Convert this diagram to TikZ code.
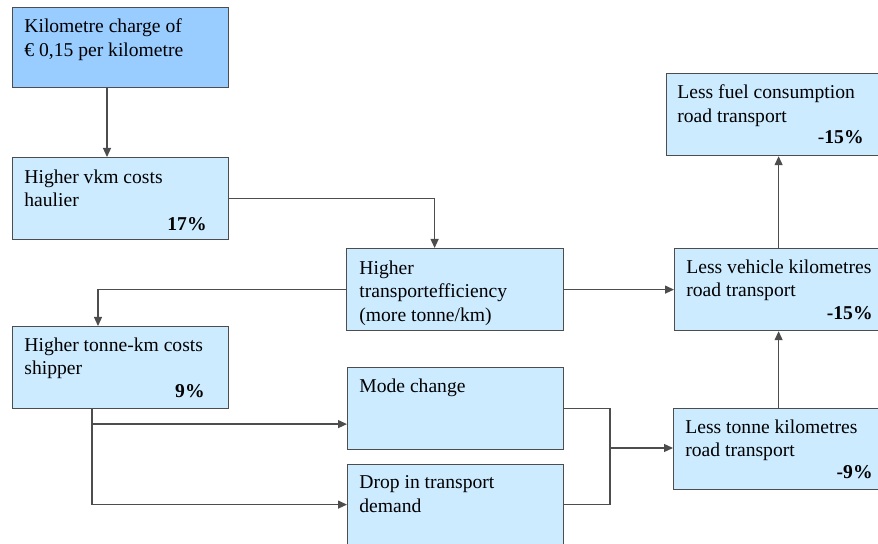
\documentclass[tikz,border=0pt]{standalone}
\usepackage{fontspec}
\setmainfont{Liberation Serif}
\usetikzlibrary{arrows.meta, calc}

\definecolor{chargeblue}{HTML}{99CCFF}
\definecolor{boxblue}{HTML}{CCEBFF}
\definecolor{linegray}{HTML}{4D4D4D}

\tikzset{
    box/.style={rectangle,draw=linegray,line width=0.6pt,fill=boxblue,anchor=north west,inner sep=0pt,minimum width=108pt,minimum height=41pt},
    txt/.style={anchor=north west,align=left,inner sep=0pt,font=\fontsize{9.8}{11.8}\selectfont},
    pct/.style={anchor=base east,inner sep=0pt,font=\fontsize{9.8}{11.8}\selectfont\bfseries},
    arr/.style={-{Triangle[length=4.5pt,width=4pt]},draw=linegray,line width=0.6pt},
    con/.style={draw=linegray,line width=0.6pt}
}

\begin{document}
\begin{tikzpicture}[x=0.5pt,y=-0.5pt]
    \useasboundingbox (0,0) rectangle (878,544);
    \clip (0,0) rectangle (878,544);

    % boxes
    \node[box,fill=chargeblue,minimum height=40pt] (charge) at (12,7) {};
    \node[box] (vkm) at (12,157) {};
    \node[box,minimum width=108.5pt] (eff) at (346,248) {};
    \node[box] (tkm) at (12,326) {};
    \node[box,minimum width=108pt] (mode) at (347,367) {};
    \node[box,minimum width=108pt,minimum height=50pt] (drop) at (347,464) {};
    \node[box,minimum width=112pt] (fuel) at (666,73) {};
    \node[box,minimum width=112pt] (veh) at (674,248) {};
    \node[box,minimum width=112pt,minimum height=40.5pt] (tonne) at (673,408) {};

    % texts
    \node[txt] (chargetxt) at ([xshift=6pt,yshift=-5.7pt]charge.north west) {Kilometre charge of\\€ 0,15 per kilometre};
    \node[txt] (vkmtxt) at ([xshift=6pt,yshift=-6.2pt]vkm.north west) {Higher vkm costs\\haulier};
    \node[txt] (efftxt) at ([xshift=6.5pt,yshift=-6.2pt]eff.north west) {Higher\\transportefficiency\\(more tonne/km)};
    \node[txt] (tkmtxt) at ([xshift=6pt,yshift=-5.7pt]tkm.north west) {Higher tonne-km costs\\shipper};
    \node[txt] (modetxt) at ([xshift=6pt,yshift=-5.7pt]mode.north west) {Mode change};
    \node[txt] (droptxt) at ([xshift=6pt,yshift=-5.7pt]drop.north west) {Drop in transport\\demand};
    \node[txt] (fueltxt) at ([xshift=5.5pt,yshift=-5.7pt]fuel.north west) {Less fuel consumption\\road transport};
    \node[txt] (vehtxt) at ([xshift=6pt,yshift=-5.7pt]veh.north west) {Less vehicle kilometres\\road transport};
    \node[txt] (tonnetxt) at ([xshift=6pt,yshift=-5.7pt]tonne.north west) {Less tonne kilometres\\road transport};

    % percentages
    \node[pct] (vkmpct) at (207,231) {17\%};
    \node[pct] (tkmpct) at (205,398) {9\%};
    \node[pct] (fuelpct) at (864,144) {\textmd{-}15\%};
    \node[pct] (vehpct) at (873,320) {-15\%};
    \node[pct] (tonnepct) at (873,479) {-9\%};

    % connectors
    \draw[arr] ([xshift=47.5pt]charge.south west) -- ([xshift=47.5pt]vkm.north west);
    \draw[arr] (vkm.east) -| ([xshift=-10.25pt]eff.north);
    \draw[arr] (eff.west) -| ([xshift=43pt]tkm.north west);
    \draw[arr] (eff.east) -- (veh.west);
    \draw[arr] (veh.north -| fuel.south) -- (fuel.south);
    \draw[arr] (tonne.north -| fuel.south) -- (veh.south -| fuel.south);
    \draw[arr] ([xshift=40pt]tkm.south west) |- ([yshift=-7.75pt]mode.west);
    \draw[arr] ([xshift=40pt]tkm.south west) |- ([yshift=5pt]drop.west);
    \coordinate (join) at (610,448);
    \draw[con] (mode.east) -| (join);
    \draw[con] ([yshift=5pt]drop.east) -| (join);
    \draw[arr] (join) -- (join -| tonne.west);
\end{tikzpicture}
\end{document}
